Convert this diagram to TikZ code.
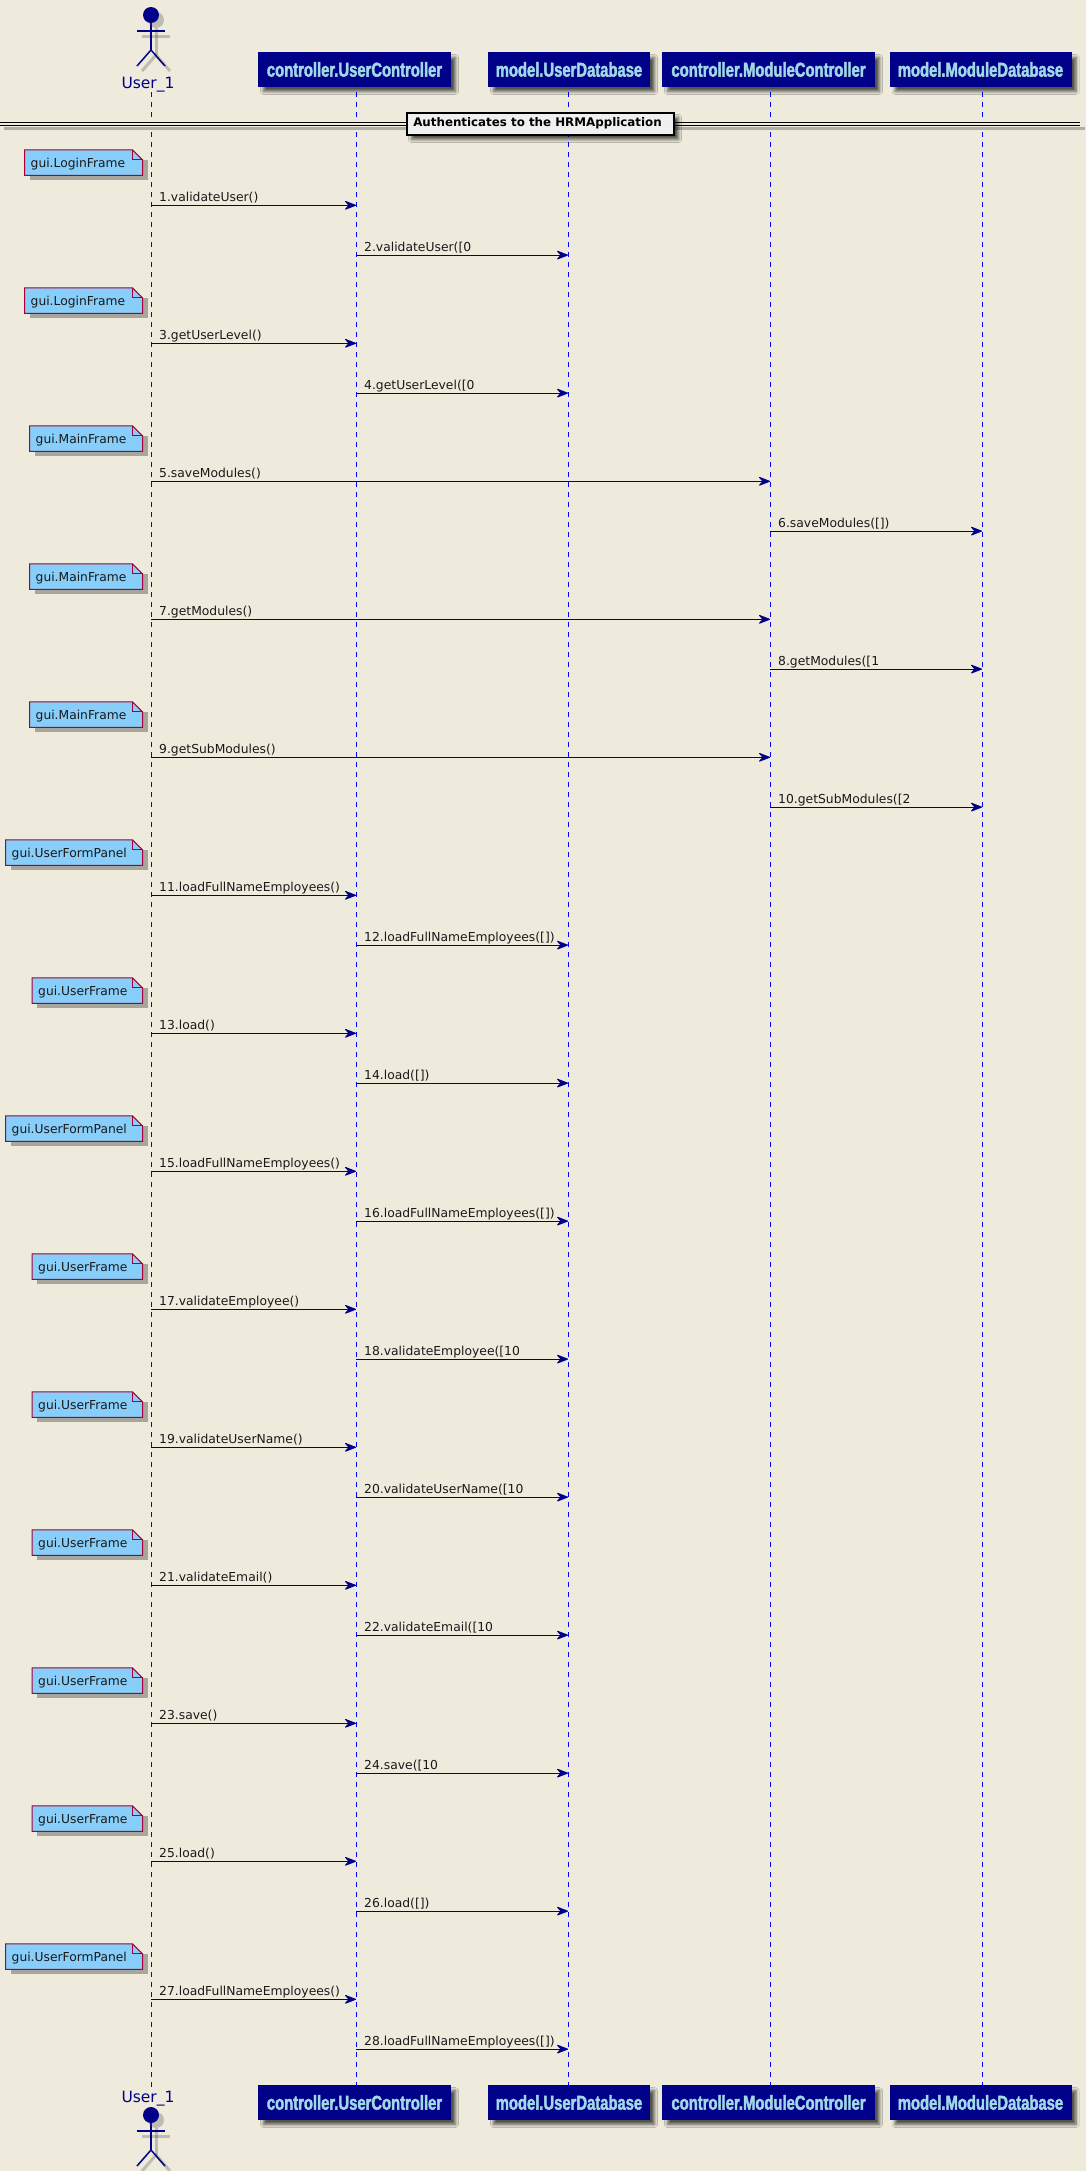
\documentclass[tikz,border=0pt]{standalone}
\usepackage{fontspec}
\setmainfont{DejaVu Sans}
\newfontfamily\headfont[FakeStretch=0.74,FakeBold=2.0]{Liberation Sans Bold}
\usetikzlibrary{arrows.meta,shadows.blur}
\definecolor{bgc}{HTML}{EFEBDC}
\definecolor{navyc}{HTML}{000088}
\definecolor{headtxt}{HTML}{A0D8E8}
\definecolor{notefill}{HTML}{87CEFA}
\definecolor{notedge}{HTML}{A80036}
\definecolor{shadec}{HTML}{505050}
\tikzset{
  softshadow/.style={blur shadow={shadow xshift=5pt,shadow yshift=-5pt,shadow blur radius=3pt,shadow opacity=65,shadow blur steps=6}},
  headbox/.style={draw=navyc,fill=navyc,minimum height=34pt,inner sep=0pt,text=headtxt,softshadow,
    font=\headfont\fontsize{20}{20}\selectfont,anchor=center},
  lifeline/.style={draw=blue,line width=1pt,dash pattern=on 5pt off 5pt},
  msgline/.style={draw=navyc,line width=1pt,-{Stealth[length=13pt,width=10pt,inset=4.5pt,round]}},
  msgtext/.style={anchor=base west,inner sep=0pt,text=black!90,font=\fontsize{12.35}{13}\selectfont},
  notetext/.style={anchor=base west,inner sep=0pt,text=black!90,font=\fontsize{12.3}{13}\selectfont},
  noteshape/.style={draw=notedge,fill=notefill,line width=1pt},
  actorline/.style={draw=navyc,line width=1.5pt},
  actorshade/.style={draw=shadec,opacity=.3,line width=3pt},
  actorlabel/.style={text=navyc,inner sep=0pt,anchor=base,font=\fontsize{15.5}{17}\selectfont},
}
% k, note left x, note text, middle lifeline, target lifeline, first label, second label
\newcommand{\msgpair}[7]{%
  \pgfmathsetmacro{\ya}{205.3+138*#1}%
  \pgfmathsetmacro{\yb}{\ya+49.8}%
  \pgfmathsetmacro{\ntop}{\ya-55.5}%
  \pgfmathsetmacro{\nbot}{\ya-30}%
  \pgfmathsetmacro{\nfold}{\ntop+10}%
  \fill[shadec,opacity=.45] (#2+5,\ntop+10) rectangle (147.5,\nbot+5);
  \path[noteshape] (#2,\ntop) -- (132.5,\ntop) -- (142.5,\nfold) -- (142.5,\nbot) -- (#2,\nbot) -- cycle;
  \path[noteshape,fill=none] (132.5,\ntop) -- (132.5,\nfold) -- (142.5,\nfold);
  \node[notetext] (note#1) at (#2+6,\ntop+17.5) {#3};
  \coordinate (sa#1) at (uT |- 0,\ya);
  \coordinate (ta#1) at (#4T |- 0,\ya);
  \coordinate (sb#1) at (#4T |- 0,\yb);
  \coordinate (tb#1) at (#5T |- 0,\yb);
  \draw[msgline] (sa#1) -- (ta#1);
  \draw[msgline] (sb#1) -- (tb#1);
  \node[msgtext] (la#1) at ([xshift=8pt,yshift=4pt]sa#1) {#6};
  \node[msgtext] (lb#1) at ([xshift=8pt,yshift=4pt]sb#1) {#7};
}
% actor: head-centre y, then name prefix
\newcommand{\actorfig}[2]{%
  \foreach \dx/\st in {5/actorshade,0/actorline}{%
    \begin{scope}[xshift=\dx pt,yshift=-\dx pt]
      \draw[\st] (151,#1+8) -- (151,#1+35);
      \draw[\st] (137,#1+16) -- (165,#1+16);
      \draw[\st] (137,#1+51) -- (151,#1+35) -- (165,#1+51);
    \end{scope}}%
  \fill[shadec,opacity=.3] (156,#1+5) circle (8);
  \node[circle,fill=navyc,minimum size=16pt,inner sep=0pt] (#2) at (151,#1) {};
}
\begin{document}
\begin{tikzpicture}[x=1pt,y=-1pt]
\useasboundingbox (0,0) rectangle (1086,2171);
\fill[bgc] (0,0) rectangle (1086,2171);
% lifeline ends
\coordinate (uT) at (151,92); \coordinate (uB) at (151,2087);
\coordinate (bT) at (356,92); \coordinate (bB) at (356,2086);
\coordinate (cT) at (568,92); \coordinate (cB) at (568,2086);
\coordinate (dT) at (770,92); \coordinate (dB) at (770,2086);
\coordinate (eT) at (982,92); \coordinate (eB) at (982,2086);
\foreach \n in {u,b,c,d,e} \draw[lifeline] (\n T) -- (\n B);
% divider
\fill[bgc] (0,121) rectangle (1080,127);
\fill[shadec,opacity=.4] (4,127) rectangle (1085,130);
\draw[black,line width=1pt] (0,122.5) -- (1080,122.5) (0,125.5) -- (1080,125.5);
\node[draw=black,line width=2pt,fill=black!6,minimum width=267pt,minimum height=22pt,inner sep=0pt,softshadow,
  font=\bfseries\fontsize{11.85}{12.5}\selectfont] (divlabel) at (540,123.5) {\kern-5pt Authenticates to the HRMApplication};
% actors
\actorfig{15}{headT}
\node[actorlabel] (userT) at (148,88) {User\_1};
\node[actorlabel] (userB) at (148,2102) {User\_1};
\actorfig{2115}{headB}
% participants
\foreach \yy/\sf in {69.5/T,2102.5/B}{
  \node[headbox,minimum width=192pt] (pb\sf) at (354.5,\yy) {controller.UserController};
  \node[headbox,minimum width=161pt] (pc\sf) at (569,\yy) {model.UserDatabase};
  \node[headbox,minimum width=212pt] (pd\sf) at (768.5,\yy) {controller.ModuleController};
  \node[headbox,minimum width=181pt] (pe\sf) at (980.5,\yy) {model.ModuleDatabase};
}
% messages
\msgpair{0}{24.5}{gui.LoginFrame}{b}{c}{1.validateUser()}{2.validateUser([0}
\msgpair{1}{24.5}{gui.LoginFrame}{b}{c}{3.getUserLevel()}{4.getUserLevel([0}
\msgpair{2}{29.5}{gui.MainFrame}{d}{e}{5.saveModules()}{6.saveModules([])}
\msgpair{3}{29.5}{gui.MainFrame}{d}{e}{7.getModules()}{8.getModules([1}
\msgpair{4}{29.5}{gui.MainFrame}{d}{e}{9.getSubModules()}{10.getSubModules([2}
\msgpair{5}{5.5}{gui.UserFormPanel}{b}{c}{11.loadFullNameEmployees()}{12.loadFullNameEmployees([])}
\msgpair{6}{32}{gui.UserFrame}{b}{c}{13.load()}{14.load([])}
\msgpair{7}{5.5}{gui.UserFormPanel}{b}{c}{15.loadFullNameEmployees()}{16.loadFullNameEmployees([])}
\msgpair{8}{32}{gui.UserFrame}{b}{c}{17.validateEmployee()}{18.validateEmployee([10}
\msgpair{9}{32}{gui.UserFrame}{b}{c}{19.validateUserName()}{20.validateUserName([10}
\msgpair{10}{32}{gui.UserFrame}{b}{c}{21.validateEmail()}{22.validateEmail([10}
\msgpair{11}{32}{gui.UserFrame}{b}{c}{23.save()}{24.save([10}
\msgpair{12}{32}{gui.UserFrame}{b}{c}{25.load()}{26.load([])}
\msgpair{13}{5.5}{gui.UserFormPanel}{b}{c}{27.loadFullNameEmployees()}{28.loadFullNameEmployees([])}
\end{tikzpicture}
\end{document}
